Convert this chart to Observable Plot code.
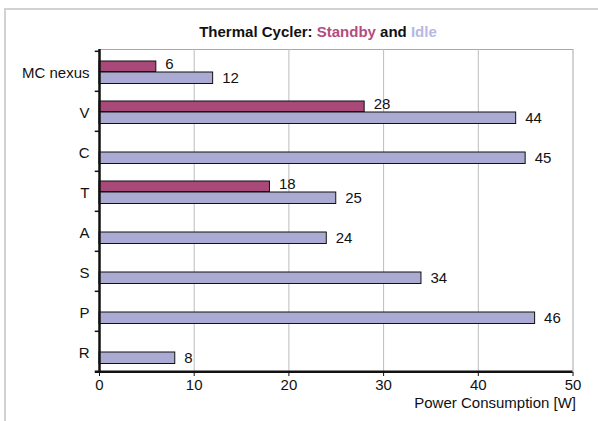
<!DOCTYPE html>
<html>
<head>
<meta charset="utf-8">
<script src="https://cdn.jsdelivr.net/npm/d3@7"></script>
<script src="https://cdn.jsdelivr.net/npm/@observablehq/plot@0.6"></script>
<style>
  html, body { margin: 0; padding: 0; background: #fff; overflow: hidden; }
  #wrap { position: relative; width: 598px; height: 421px; font-family: "Liberation Sans", Arial, sans-serif; }
  #frame { position: absolute; left: 4px; top: 8px; width: 700px; height: 600px; border: 2px solid #d2d2d2; box-sizing: border-box; }
  #title { position: absolute; left: 0; top: 23px; width: 636px; text-align: center; font-size: 15px; font-weight: bold; line-height: 18px; color: #111; }
  #chart { position: absolute; left: 0; top: 0; }
</style>
</head>
<body>
<div id="wrap">
  <div id="frame"></div>
  <div id="chart"></div>
  <div id="title">Thermal Cycler: <span style="color:#b44c80">Standby</span> and <span style="color:#b8b8e4">Idle</span></div>
</div>
<script>
const categories = ["MC nexus", "V", "C", "T", "A", "S", "P", "R"];
const standbyValues = [6, 28, null, 18, null, null, null, null];
const idleValues = [12, 44, 45, 25, 24, 34, 46, 8];
const xTicks = [0, 10, 20, 30, 40, 50];
const gridTicks = [10, 20, 30, 40];

const standby = categories.map((c, i) => ({cat: c, value: standbyValues[i]})).filter(d => d.value != null);
const idle = categories.map((c, i) => ({cat: c, value: idleValues[i]})).filter(d => d.value != null);

const W = 598, H = 421, mt = 49, mb = 49, ml = 99, mr = 25.5;
const bw = (H - mt - mb) / categories.length;

const chart = Plot.plot({
  width: W,
  height: H,
  marginTop: mt,
  marginBottom: mb,
  marginLeft: ml,
  marginRight: mr,
  style: {fontFamily: "Liberation Sans, Arial, sans-serif", fontSize: "15px", background: "transparent", color: "#111"},
  x: {domain: [0, 50]},
  y: {domain: categories, padding: 0},
  marks: [
    Plot.frame({stroke: "#a8a8a8"}),
    Plot.ruleX(gridTicks, {stroke: "#bcbcbc"}),
    Plot.barX(standby, {x: "value", y: "cat", fill: "#a8497a", stroke: "#111", strokeWidth: 1, insetTop: 10, insetBottom: 19.5}),
    Plot.barX(idle, {x: "value", y: "cat", fill: "#aaaad3", stroke: "#111", strokeWidth: 1, insetTop: 21, insetBottom: 7.5}),
    Plot.text(standby, {x: "value", y: "cat", text: d => String(d.value), dx: 9, dy: -7.5, textAnchor: "start", fontSize: 15, fill: "#111"}),
    Plot.text(idle, {x: "value", y: "cat", text: d => String(d.value), dx: 9, dy: 6.8, textAnchor: "start", fontSize: 15, fill: "#111"}),
    Plot.ruleY(categories, {y: d => d, x1: -0.45, x2: 0, dy: -bw / 2, stroke: "#111", strokeWidth: 1.5}),
    Plot.ruleY([categories[categories.length - 1]], {y: d => d, x1: -0.45, x2: 50, dy: bw / 2, stroke: "#111", strokeWidth: 2.5}),
    Plot.ruleX([0], {stroke: "#111", strokeWidth: 2.5}),
    Plot.axisY({tickSize: 0, tickPadding: 10, fontSize: 15, dy: 1.5, label: null}),
    Plot.axisX({ticks: xTicks, tickSize: 4, tickPadding: 3, fontSize: 15, label: null, stroke: "#111"}),
    Plot.text(["Power Consumption [W]"], {frameAnchor: "bottom-right", dx: 3, dy: 35, textAnchor: "end", fontSize: 15, fill: "#111"})
  ]
});
document.getElementById("chart").appendChild(chart);
</script>
</body>
</html>
